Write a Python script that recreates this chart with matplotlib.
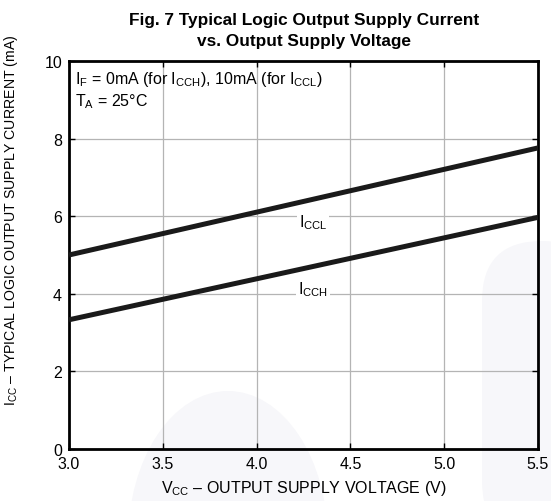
import matplotlib
matplotlib.use("Agg")
import matplotlib.pyplot as plt
from matplotlib.patches import Ellipse, FancyBboxPatch

plt.rcParams['font.family'] = ['Liberation Sans', 'DejaVu Sans']
plt.rcParams['mathtext.fontset'] = 'custom'
plt.rcParams['mathtext.rm'] = 'Liberation Sans'
plt.rcParams['mathtext.it'] = 'Liberation Sans'

vcc = [3.0, 5.5]
iccl = [5.0, 7.76]
icch = [3.33, 5.97]
xticks = [3.0, 3.5, 4.0, 4.5, 5.0, 5.5]
yticks = [0, 2, 4, 6, 8, 10]

fig = plt.figure(figsize=(5.51, 5.02), dpi=100)

# faint background watermark shapes (pixel coords from bottom-left)
fig.patches.append(Ellipse((228, -40), 200, 300, transform=None, facecolor='#f7f7fa',
                           edgecolor='none', zorder=-5))
fig.patches.append(FancyBboxPatch((482, -40), 120, 300, boxstyle='round,pad=0,rounding_size=60',
                                  transform=None, facecolor='#f7f7fa', edgecolor='none', zorder=-5))

ax = fig.add_axes([0.1252, 0.1036, 0.8512, 0.7729])
ax.set_facecolor('none')

ax.set_xlim(3.0, 5.5)
ax.set_ylim(0, 10)
ax.set_xticks(xticks)
ax.set_xticklabels([f"{v:.1f}" for v in xticks])
ax.set_yticks(yticks)
ax.set_yticklabels([str(v) for v in yticks])
ax.grid(True, color='#b4b4b4', linewidth=0.9, zorder=0)
ax.tick_params(direction='in', length=4, width=1, labelsize=11.5, top=True, right=True)
ax.tick_params(axis='x', pad=5)
ax.tick_params(axis='y', pad=5)

for s in ax.spines.values():
    s.set_linewidth(2)

ax.plot(vcc, iccl, color='#1a1a1a', linewidth=3.6, solid_capstyle='butt', zorder=3)
ax.plot(vcc, icch, color='#1a1a1a', linewidth=3.6, solid_capstyle='butt', zorder=3)

bbox = dict(facecolor='white', edgecolor='none', pad=1.5)
ax.text(4.30, 5.85, r'I$_{\rm CCL}$', fontsize=11.5, ha='center', va='center', bbox=bbox, zorder=4)
ax.text(4.30, 4.12, r'I$_{\rm CCH}$', fontsize=11.5, ha='center', va='center', bbox=bbox, zorder=4)

ax.text(0.012, 0.98, r'I$_{\rm F}$ = 0mA (for I$_{\rm CCH}$), 10mA (for I$_{\rm CCL}$)',
        transform=ax.transAxes, fontsize=11.5, ha='left', va='top', zorder=4)
ax.text(0.012, 0.922, r'T$_{\rm A}$ = 25°C',
        transform=ax.transAxes, fontsize=11.5, ha='left', va='top', zorder=4)

ax.set_xlabel(r'V$_{\rm CC}$ – OUTPUT SUPPLY VOLTAGE (V)', fontsize=11.5, labelpad=5)
ax.set_ylabel(r'I$_{\rm CC}$ – TYPICAL LOGIC OUTPUT SUPPLY CURRENT (mA)', fontsize=10.2)
ax.yaxis.set_label_coords(-0.104, 0.593)

fig.text(0.551, 0.960, 'Fig. 7 Typical Logic Output Supply Current', fontsize=12.4, fontweight='bold', ha='center', va='center')
fig.text(0.551, 0.918, 'vs. Output Supply Voltage', fontsize=12.4, fontweight='bold', ha='center', va='center')

fig.savefig('out.png', dpi=100)
